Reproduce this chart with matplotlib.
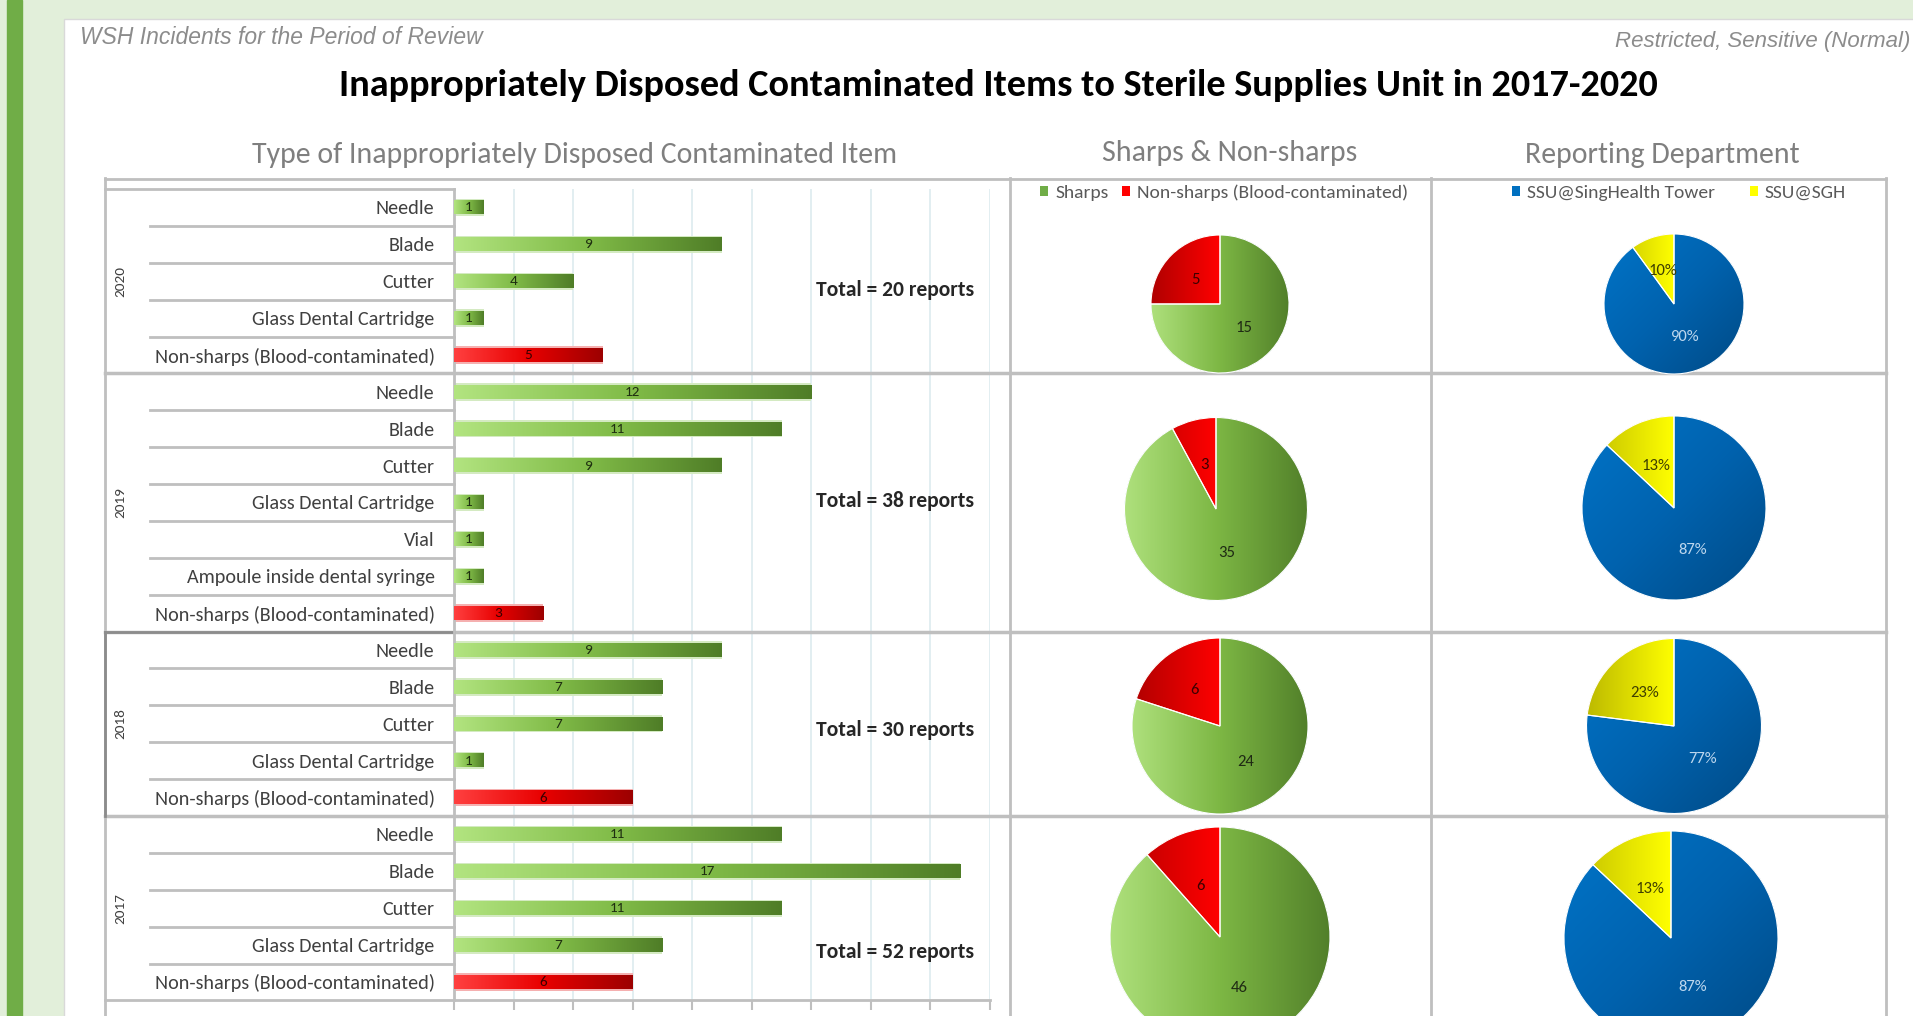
import numpy as np
import matplotlib
matplotlib.use('Agg')
import matplotlib.pyplot as plt
from matplotlib import font_manager
from matplotlib.colors import LinearSegmentedColormap
from matplotlib.patches import Rectangle, Patch, Wedge
from matplotlib.transforms import blended_transform_factory

W, H = 1913, 1016

#### data
years = ['2020', '2019', '2018', '2017']
items_2020 = ['Needle', 'Blade', 'Cutter', 'Glass Dental Cartridge', 'Non-sharps (Blood-contaminated)']
counts_2020 = [1, 9, 4, 1, 5]
items_2019 = ['Needle', 'Blade', 'Cutter', 'Glass Dental Cartridge', 'Vial',
              'Ampoule inside dental syringe', 'Non-sharps (Blood-contaminated)']
counts_2019 = [12, 11, 9, 1, 1, 1, 3]
items_2018 = ['Needle', 'Blade', 'Cutter', 'Glass Dental Cartridge', 'Non-sharps (Blood-contaminated)']
counts_2018 = [9, 7, 7, 1, 6]
items_2017 = ['Needle', 'Blade', 'Cutter', 'Glass Dental Cartridge', 'Non-sharps (Blood-contaminated)']
counts_2017 = [11, 17, 11, 7, 6]

sharp_labels = ['Sharps', 'Non-sharps (Blood-contaminated)']
sharps_2020 = [15, 5]
sharps_2019 = [35, 3]
sharps_2018 = [24, 6]
sharps_2017 = [46, 6]

dept_labels = ['SSU@SingHealth Tower', 'SSU@SGH']
dept_2020 = [90, 10]
dept_2019 = [87, 13]
dept_2018 = [77, 23]
dept_2017 = [87, 13]

#### fonts
avail = {f.name for f in font_manager.fontManager.ttflist}
def pick(*names):
    for n in names:
        if n in avail:
            return n
    return 'DejaVu Sans'
CAL = pick('Carlito', 'Lato', 'Open Sans')
ARI = pick('Liberation Sans Narrow', 'Liberation Sans', 'DejaVu Sans')
plt.rcParams['font.family'] = [CAL, 'DejaVu Sans']

GRAY = '#BFBFBF'

fig = plt.figure(figsize=(W / 100, H / 100), dpi=100, facecolor='#E2EFDA')

# background / frame layer in pixel coords (y down)
bg = fig.add_axes([0, 0, 1, 1], zorder=0)
bg.set_xlim(0, W)
bg.set_ylim(H, 0)
bg.axis('off')
bg.add_patch(Rectangle((7, 0), 15, H, color='#70AD47'))
bg.add_patch(Rectangle((64, 19), W, H, facecolor='white', edgecolor='#D9D9D9', lw=1))

bg.text(80, 37, 'WSH Incidents for the Period of Review', family=ARI, style='italic',
        fontsize=16.5, color='#8C8C8C', va='center', ha='left')
bg.text(1910, 41, 'Restricted, Sensitive (Normal)', family=ARI, style='italic',
        fontsize=16, color='#8C8C8C', va='center', ha='right')
bg.text(998, 86, 'Inappropriately Disposed Contaminated Items to Sterile Supplies Unit in 2017-2020',
        fontsize=27.5, fontweight='bold', color='black', ha='center', va='center')
bg.text(575, 155, 'Type of Inappropriately Disposed Contaminated Item', fontsize=21.5,
        fontweight='light', color='#7F7F7F', ha='center', va='center')
bg.text(1230, 153, 'Sharps & Non-sharps', fontsize=21.5, fontweight='light',
        color='#7F7F7F', ha='center', va='center')
bg.text(1662, 155, 'Reporting Department', fontsize=21.5, fontweight='light',
        color='#7F7F7F', ha='center', va='center')

# frame lines
bg.plot([105, 1886], [179, 179], color=GRAY, lw=2)
for xv in [105, 1010, 1431, 1886]:
    bg.plot([xv, xv], [178, H], color=GRAY, lw=2)

#### bar chart
groups = [(years[0], items_2020, counts_2020),
          (years[1], items_2019, counts_2019),
          (years[2], items_2018, counts_2018),
          (years[3], items_2017, counts_2017)]
total_offset = [0.25, -0.05, 0.16, 1.2]

labels, values, ypos = [], [], []
group_rows = []
k = 0
for yr, items, cnts in groups:
    rows = list(range(k, k + len(items)))
    group_rows.append(rows)
    labels += items
    values += cnts
    ypos += rows
    k += len(items)

L, R, T, B = 454, 990, 189, 1000.4
ax = fig.add_axes([L / W, 1 - B / H, (R - L) / W, (B - T) / H], zorder=1)
ax.set_facecolor('none')
def ax_x(px):
    return (px - L) / (R - L)
tr = blended_transform_factory(ax.transAxes, ax.transData)

green_cm = LinearSegmentedColormap.from_list('g', ['#B2E480', '#80BB47', '#4F7D27'])
red_cm = LinearSegmentedColormap.from_list('r', ['#FF4040', '#E80000', '#9C0000'])
grad = np.linspace(0, 1, 256).reshape(1, -1)
bar_h = 0.37
for lab, v, y in zip(labels, values, ypos):
    red = lab.startswith('Non-sharps')
    ax.barh(y, v, height=bar_h + 0.1, left=0, color='#F5B0B0' if red else '#D4EAC2', zorder=2)
    ax.imshow(grad, extent=(0, v, y + bar_h / 2, y - bar_h / 2), cmap=red_cm if red else green_cm,
              aspect='auto', zorder=3, interpolation='bilinear')
    ax.text(v / 2, y, str(v), ha='center', va='center', fontsize=11,
            color='#3A0000' if red else '#1E2E10', zorder=4)

ax.set_xlim(0, 18)
ax.set_ylim(21.5, -0.5)
ax.set_xticks(range(0, 19, 2))
ax.set_xticklabels([])
ax.tick_params(axis='x', length=7, color=GRAY, width=1.5)
ax.set_yticks(ypos)
ax.set_yticklabels(labels, fontsize=14.5, color='#404040')
ax.tick_params(axis='y', length=0, pad=14)
ax.grid(axis='x', color='#DDEBEF', lw=1.2, zorder=0)
ax.set_axisbelow(True)
for s in ['top', 'right']:
    ax.spines[s].set_visible(False)
for s in ['left', 'bottom']:
    ax.spines[s].set_color(GRAY)
    ax.spines[s].set_linewidth(2)

# separators
ax.plot([ax_x(105), 0], [-0.5, -0.5], transform=tr, clip_on=False, color=GRAY, lw=2)
for gi, rows in enumerate(group_rows):
    for r in rows[:-1]:
        ax.plot([ax_x(150), 0], [r + 0.5, r + 0.5], transform=tr, clip_on=False, color=GRAY, lw=2)
    end = rows[-1] + 0.5
    if gi < len(group_rows) - 1:
        ax.plot([ax_x(105), ax_x(1886)], [end, end], transform=tr, clip_on=False, color=GRAY, lw=2.5)
    else:
        ax.plot([ax_x(105), 0], [end, end], transform=tr, clip_on=False, color=GRAY, lw=2)
    mid = (rows[0] + rows[-1]) / 2
    ax.text(ax_x(120), mid, groups[gi][0], transform=tr, rotation=90, ha='center', va='center',
            fontsize=11, color='#404040')
    ax.text(12.16, mid + total_offset[gi], 'Total = %d reports' % sum(groups[gi][2]),
            fontsize=15.5, fontweight='bold', color='#262626', ha='left', va='center')
# darker box around 2018
r18 = group_rows[2]
ax.plot([ax_x(105), 0], [r18[0] - 0.5, r18[0] - 0.5], transform=tr, clip_on=False, color='#8C8C8C', lw=2)
ax.plot([ax_x(105), ax_x(105)], [r18[0] - 0.5, r18[-1] + 0.5], transform=tr, clip_on=False,
        color='#8C8C8C', lw=2)

#### pies
pg_cm = LinearSegmentedColormap.from_list('pg', ['#AEE07C', '#7DB744', '#52802A'])
pr_cm = LinearSegmentedColormap.from_list('pr', ['#B00000', '#FF0000', '#FF0000'])
pb_cm = LinearSegmentedColormap.from_list('pb', ['#0074C8', '#0062AE', '#004A85'])
py_cm = LinearSegmentedColormap.from_list('py', ['#BDBA00', '#FFFF00', '#FFFF00'])

gx, gy = np.meshgrid(np.linspace(-1, 1, 200), np.linspace(-1, 1, 200))
def grad_img(angle):
    a = np.deg2rad(angle)
    g = gx * np.cos(a) + gy * np.sin(a)
    return (g - g.min()) / (g.max() - g.min())

def draw_pie(cx, cy, r, vals, cmaps, angles, fmt, tcolors):
    s = r * 1.04
    a = fig.add_axes([(cx - s) / W, 1 - (cy + s) / H, 2 * s / W, 2 * s / H], zorder=2)
    a.set_facecolor('none')
    wedges, _, autotexts = a.pie(vals, startangle=90, counterclock=False, radius=1,
                                 autopct=fmt, pctdistance=0.5,
                                 wedgeprops=dict(linewidth=0),
                                 textprops=dict(fontsize=12))
    for w, cm, ang, t, tc in zip(wedges, cmaps, angles, autotexts, tcolors):
        im = a.imshow(grad_img(ang), extent=(-1, 1, -1, 1), origin='lower', cmap=cm,
                      aspect='auto', interpolation='bilinear', zorder=1.5)
        im.set_clip_path(w)
        a.add_patch(Wedge(w.center, w.r, w.theta1, w.theta2, facecolor='none',
                          edgecolor='white', lw=0.8, zorder=2))
        t.set_color(tc)
    a.set_xlim(-1.04, 1.04)
    a.set_ylim(-1.04, 1.04)
    a.set_aspect('auto')
    a.axis('off')

sharps = [sharps_2020, sharps_2019, sharps_2018, sharps_2017]
depts = [dept_2020, dept_2019, dept_2018, dept_2017]
pie1_pos = [(1220, 304, 69), (1216, 509, 91.5), (1220, 726, 88), (1220, 937, 110)]
pie2_pos = [(1674, 304, 70), (1674, 508, 92), (1674, 726, 87.5), (1671, 938, 107)]
for vals, (cx, cy, r) in zip(sharps, pie1_pos):
    tot = sum(vals)
    draw_pie(cx, cy, r, vals, [pg_cm, pr_cm], [0, 0],
             lambda p, tot=tot: '%d' % round(p * tot / 100), ['#1F2A14', '#3A0000'])
for vals, (cx, cy, r) in zip(depts, pie2_pos):
    draw_pie(cx, cy, r, vals, [pb_cm, py_cm], [-45, 0], '%1.0f%%', ['#BDD7EE', '#3F3F00'])

# legends
h1 = [Patch(facecolor='#70AD47'), Patch(facecolor='#FF0000')]
h2 = [Patch(facecolor='#0070C0'), Patch(facecolor='#FFFF00')]
for hs, labs, xc, cs in [(h1, sharp_labels, 1224, 0.7), (h2, dept_labels, 1679, 1.8)]:
    fig.legend(hs, labs, loc='center', bbox_to_anchor=(xc / W, 1 - 193 / H), ncol=2,
               frameon=False, fontsize=14, handlelength=0.4, handleheight=0.4,
               handletextpad=0.35, columnspacing=cs, labelcolor='#595959', borderpad=0)

fig.savefig('out.png', dpi=100, facecolor=fig.get_facecolor())
